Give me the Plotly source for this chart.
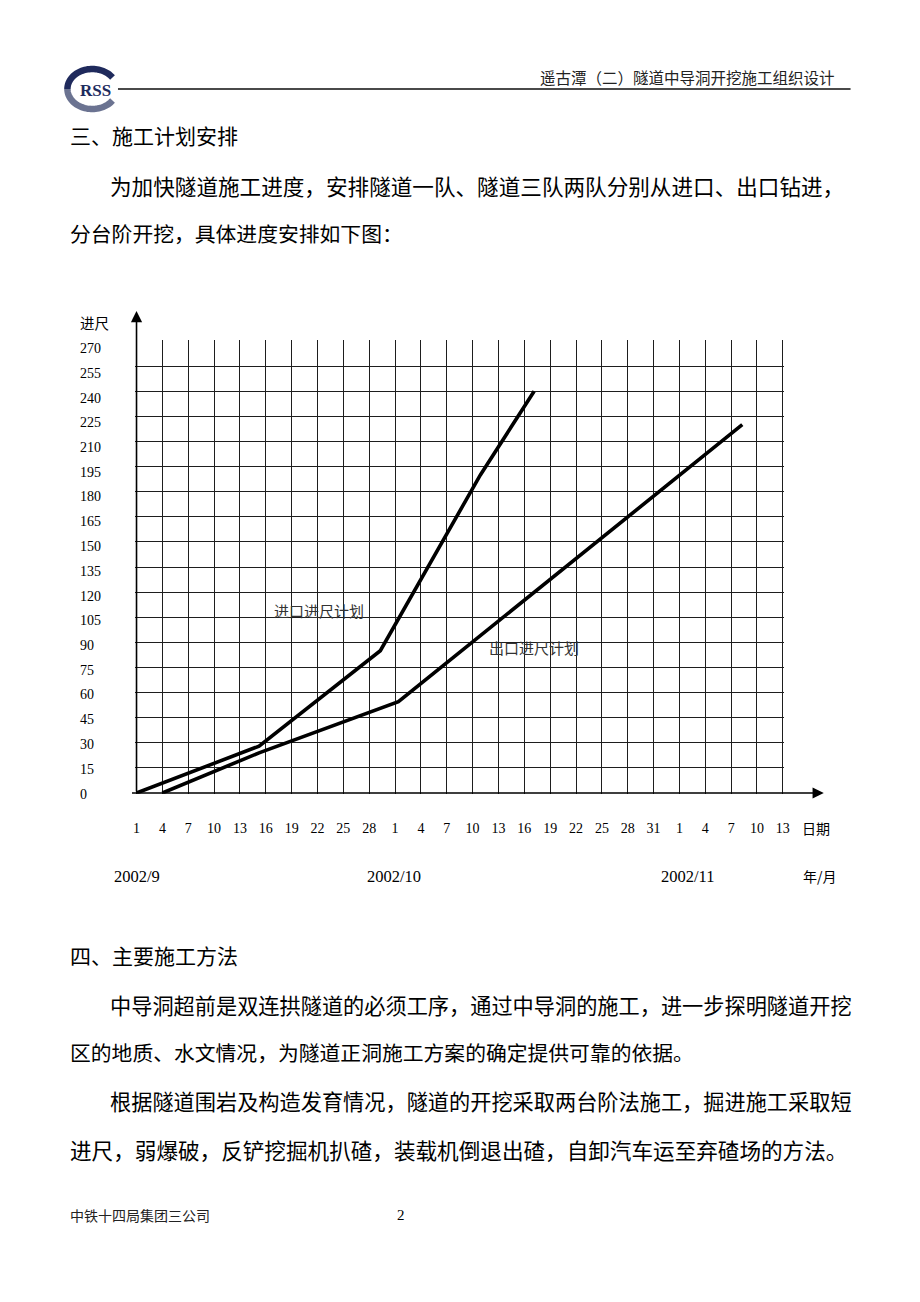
import math
import plotly.graph_objects as go

W, H = 920, 1302

# ---------------- data ----------------
x_labels = ["1", "4", "7", "10", "13", "16", "19", "22", "25", "28",
            "1", "4", "7", "10", "13", "16", "19", "22", "25", "28", "31",
            "1", "4", "7", "10", "13"]
x_pos = list(range(len(x_labels)))
y_ticks = list(range(0, 271, 15))
months = ["2002/9", "2002/10", "2002/11"]
month_pos = [0, 9.94, 21.3]

inlet_x = [0, 4.74, 9.43, 13.3, 15.38]
inlet_y = [0, 28, 85, 190, 240]
outlet_x = [1, 4.74, 10.13, 23.43]
outlet_y = [0, 24, 54.6, 220]

inlet_name = "进口进尺计划"
outlet_name = "出口进尺计划"
inlet_label_pos = (7.07, 108.8)
outlet_label_pos = (15.39, 86.7)

# ---------------- helpers ----------------
def fx(p):
    return p / W

def fy(p):
    return 1 - p / H

CJK = "Noto Sans CJK SC"
SERIF = "Liberation Serif"

x0px, x1px = 135.7, 787.7
ppu_x = (x1px - x0px) / 25
xr = [-0.04, 25.04]
dom_x = [fx(x0px + xr[0] * ppu_x), fx(x0px + xr[1] * ppu_x)]

y0px, y1px = 793.0, 341.0
ppu_y = (y0px - y1px) / 270
yr = [-0.5, 270.5]
dom_y = [fy(y0px - yr[0] * ppu_y), fy(y0px - yr[1] * ppu_y)]

fig = go.Figure()

fig.add_trace(go.Scatter(x=inlet_x, y=inlet_y, mode="lines", name=inlet_name,
                         line=dict(color="black", width=3.6), cliponaxis=False))
fig.add_trace(go.Scatter(x=outlet_x, y=outlet_y, mode="lines", name=outlet_name,
                         line=dict(color="black", width=3.6), cliponaxis=False))

annotations = []

# y tick labels (left aligned)
for v in y_ticks:
    annotations.append(dict(x=fx(78), xref="paper", y=v, yref="y", text=str(v),
                            xanchor="left", yanchor="middle", showarrow=False,
                            yshift=-(1 + 6.5 * v / 270), borderpad=0,
                            font=dict(family=SERIF, size=14, color="black")))

# month labels
for m, p in zip(months, month_pos):
    annotations.append(dict(x=p, xref="x", y=fy(876), yref="paper", text=m,
                            xanchor="center", yanchor="middle", showarrow=False,
                            borderpad=0, font=dict(family=SERIF, size=16.5, color="black")))

# axis titles
annotations.append(dict(x=fx(93), y=fy(322), xref="paper", yref="paper", text="进尺",
                        xanchor="center", yanchor="middle", showarrow=False, borderpad=0,
                        font=dict(family=CJK, size=14.5, color="black")))
annotations.append(dict(x=fx(821), y=fy(828), xref="paper", yref="paper", text="日期",
                        xanchor="center", yanchor="middle", showarrow=False, borderpad=0,
                        font=dict(family=CJK, size=14, color="black")))
annotations.append(dict(x=fx(825), y=fy(876), xref="paper", yref="paper", text="年/月",
                        xanchor="center", yanchor="middle", showarrow=False, borderpad=0,
                        font=dict(family=CJK, size=14, color="black")))

# series labels
annotations.append(dict(x=inlet_label_pos[0], y=inlet_label_pos[1], xref="x", yref="y",
                        text=inlet_name, xanchor="center", yanchor="middle",
                        showarrow=False, borderpad=0,
                        font=dict(family=CJK, size=15, color="#333333")))
annotations.append(dict(x=outlet_label_pos[0], y=outlet_label_pos[1], xref="x", yref="y",
                        text=outlet_name, xanchor="center", yanchor="middle",
                        showarrow=False, borderpad=0,
                        font=dict(family=CJK, size=15, color="#333333")))

# axis arrows
annotations.append(dict(x=fx(x0px), y=fy(311), xref="paper", yref="paper", text="",
                        showarrow=True, ax=0, ay=(y0px - 311), arrowhead=2,
                        arrowsize=1.4, arrowwidth=1.6, arrowcolor="black", standoff=0))
annotations.append(dict(x=fx(829), y=fy(y0px), xref="paper", yref="paper", text="",
                        showarrow=True, ax=-(829 - x0px), ay=0, arrowhead=2,
                        arrowsize=1.4, arrowwidth=1.6, arrowcolor="black", standoff=0))

# ---------------- page text ----------------
page_lines = [
    ("三、施工计划安排", 68, 135, 21.0),
    ("为加快隧道施工进度，安排隧道一队、隧道三队两队分别从进口、出口钻进，", 108, 185, 21.6),
    ("分台阶开挖，具体进度安排如下图：", 68, 233, 20.8),
    ("四、主要施工方法", 68, 955, 21.0),
    ("中导洞超前是双连拱隧道的必须工序，通过中导洞的施工，进一步探明隧道开挖", 108, 1004, 21.2),
    ("区的地质、水文情况，为隧道正洞施工方案的确定提供可靠的依据。", 68, 1052, 20.8),
    ("根据隧道围岩及构造发育情况，隧道的开挖采取两台阶法施工，掘进施工采取短", 108, 1100, 21.2),
    ("进尺，弱爆破，反铲挖掘机扒碴，装载机倒退出碴，自卸汽车运至弃碴场的方法。", 68, 1149, 21.6),
]
for t, xl, yc, sz in page_lines:
    annotations.append(dict(x=fx(xl), y=fy(yc), xref="paper", yref="paper", text=t,
                            xanchor="left", yanchor="middle", showarrow=False, borderpad=0,
                            font=dict(family=CJK, size=sz, color="black")))

# header
annotations.append(dict(x=fx(841), y=fy(77), xref="paper", yref="paper",
                        text="遥古潭（二）隧道中导洞开挖施工组织设计",
                        xanchor="right", yanchor="middle", showarrow=False, borderpad=0,
                        font=dict(family=CJK, size=15.5, color="#222222")))
annotations.append(dict(x=fx(94), y=fy(91), xref="paper", yref="paper", text="<b>RSS</b>",
                        xanchor="center", yanchor="middle", showarrow=False, borderpad=0,
                        font=dict(family=SERIF, size=17, color="#1d2b5e")))
# footer
annotations.append(dict(x=fx(68), y=fy(1215), xref="paper", yref="paper",
                        text="中铁十四局集团三公司",
                        xanchor="left", yanchor="middle", showarrow=False, borderpad=0,
                        font=dict(family=CJK, size=14, color="#222222")))
annotations.append(dict(x=fx(403), y=fy(1215), xref="paper", yref="paper", text="2",
                        xanchor="center", yanchor="middle", showarrow=False, borderpad=0,
                        font=dict(family=SERIF, size=15, color="black")))

# ---------------- shapes (logo ring, header rule) ----------------
def arc_path(cx, cy, rx, ry, a0, a1, n=40):
    pts = []
    for i in range(n + 1):
        a = math.radians(a0 + (a1 - a0) * i / n)
        pts.append((fx(cx + rx * math.cos(a)), fy(cy - ry * math.sin(a))))
    return "M " + " L ".join(f"{px:.5f},{py:.5f}" for px, py in pts)

shapes = [
    dict(type="line", xref="paper", yref="paper", x0=fx(117), x1=fx(856), y0=fy(89), y1=fy(89),
         line=dict(color="#4a4a4a", width=2)),
    dict(type="path", xref="paper", yref="paper", path=arc_path(91, 89, 25, 20, 35, 180),
         line=dict(color="#1f2a5c", width=6.5)),
    dict(type="path", xref="paper", yref="paper", path=arc_path(91, 89, 25, 20, 180, 325),
         line=dict(color="#6b7391", width=6.5)),
]

fig.update_layout(
    width=W, height=H,
    margin=dict(l=0, r=0, t=0, b=0),
    paper_bgcolor="white", plot_bgcolor="white",
    showlegend=False,
    annotations=annotations,
    shapes=shapes,
    xaxis=dict(domain=dom_x, range=xr, tickmode="array", tickvals=x_pos, ticktext=x_labels,
               showgrid=True, gridcolor="#1e1e1e", gridwidth=1.2, zeroline=False,
               showline=False, ticks="", ticklabelstandoff=24,
               tickfont=dict(family=SERIF, size=14, color="black"), fixedrange=True),
    yaxis=dict(domain=dom_y, range=yr, tickmode="array", tickvals=y_ticks,
               showgrid=True, gridcolor="#1e1e1e", gridwidth=1.2, zeroline=False,
               showline=False, showticklabels=False, ticks="", fixedrange=True),
)

fig.write_html("out.html")
